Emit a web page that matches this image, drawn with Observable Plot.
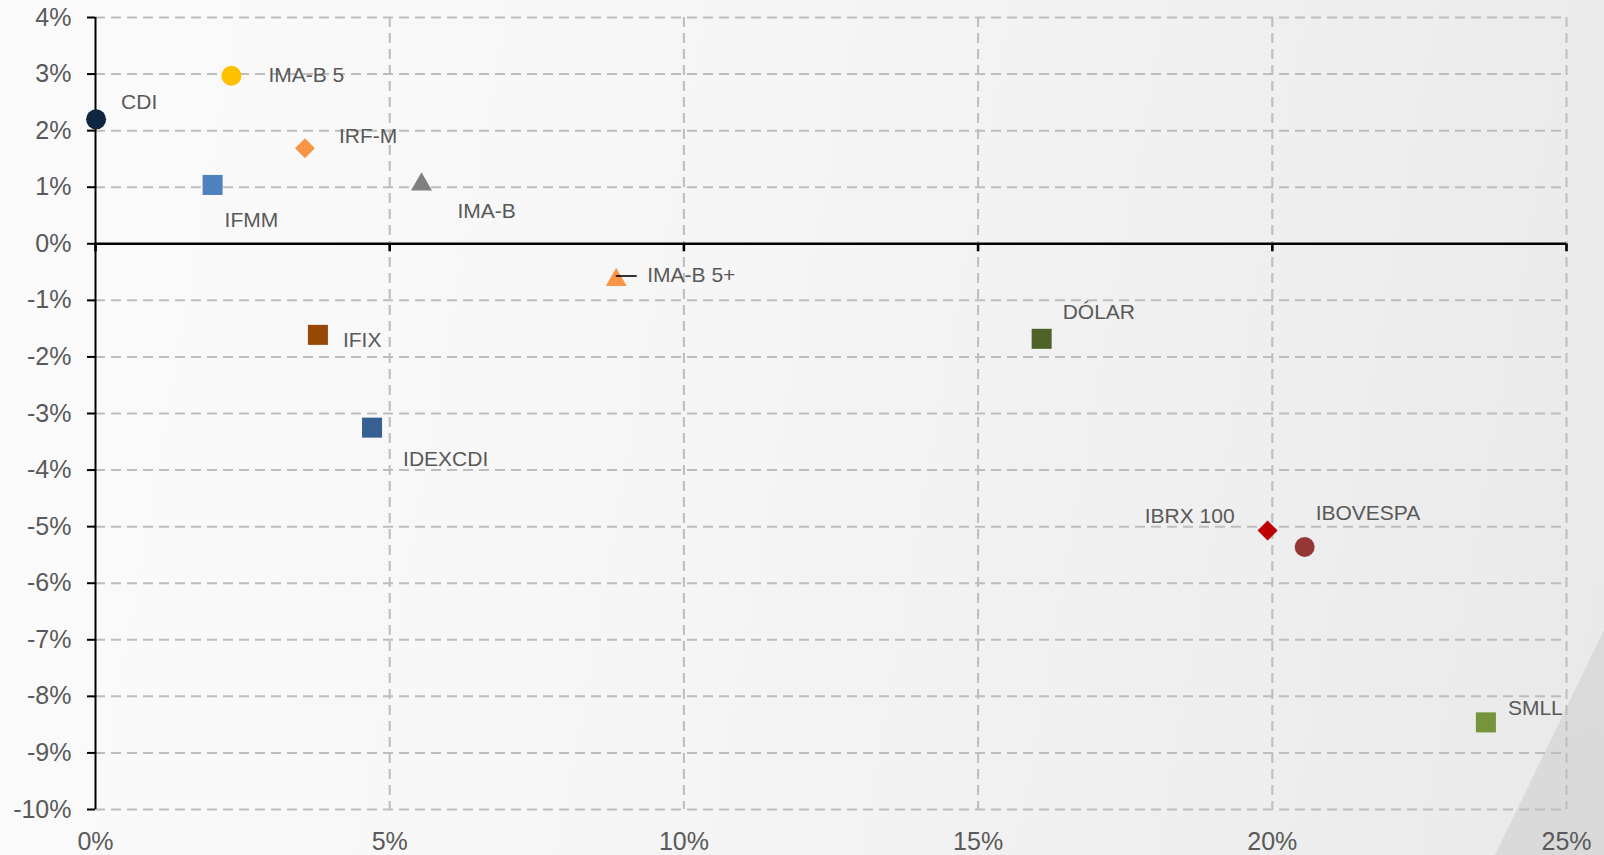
<!DOCTYPE html>
<html>
<head>
<meta charset="utf-8">
<script src="https://cdn.jsdelivr.net/npm/d3@7"></script>
<script src="https://cdn.jsdelivr.net/npm/@observablehq/plot@0.6"></script>
<style>
  html, body { margin: 0; padding: 0; width: 1604px; height: 855px; overflow: hidden; }
  body {
    position: relative;
    background: linear-gradient(100deg, #fbfbfb 0%, #f7f7f7 35%, #f0f0f0 70%, #e9e9e9 100%);
    font-family: "Liberation Sans", Arial, sans-serif;
  }
  #corner {
    position: absolute; left: 0; top: 0; width: 1604px; height: 855px;
    background: linear-gradient(160deg, #e4e4e4, #d9d9d9);
    clip-path: polygon(1604px 630px, 1604px 855px, 1495px 855px);
  }
  #chart { position: absolute; left: 0; top: 0; }
</style>
</head>
<body>
<div id="corner"></div>
<div id="chart"></div>
<script>
// ---- data (x = risk/volatility %, y = return %) ----
const names  = ["CDI", "IMA-B 5", "IRF-M", "IFMM", "IMA-B", "IMA-B 5+", "IFIX", "IDEXCDI", "DÓLAR", "IBRX 100", "IBOVESPA", "SMLL"];
const risk   = [0.01, 2.31, 3.56, 1.99, 5.54, 8.85, 3.78, 4.70, 16.08, 19.92, 20.55, 23.63];
const ret    = [2.20, 2.97, 1.69, 1.04, 1.05, -0.64, -1.61, -3.25, -1.68, -5.07, -5.36, -8.46];
const colors = ["#0f2540", "#ffc000", "#f79646", "#4f81bd", "#808080", "#f79646", "#974806", "#376092", "#4f6228", "#c00000", "#953735", "#77933c"];
const shapes = ["circle", "circle", "diamond2", "square", "triangle", "triangle", "square", "square", "square", "diamond2", "circle", "square"];
const xTicks = [0, 5, 10, 15, 20, 25];
const yTicks = [-10, -9, -8, -7, -6, -5, -4, -3, -2, -1, 0, 1, 2, 3, 4];

// ---- layout / style (not data) ----
const symbolR = {circle: 10, square: 11.3, diamond2: 9, triangle: 7.8};
const labelPos = {
  "CDI":      {dx: 25, dy: -17, anchor: "start"},
  "IMA-B 5":  {dx: 37, dy: -1,  anchor: "start"},
  "IRF-M":    {dx: 34, dy: -12, anchor: "start"},
  "IFMM":     {dx: 12, dy: 35,  anchor: "start"},
  "IMA-B":    {dx: 36, dy: 27,  anchor: "start"},
  "IMA-B 5+": {dx: 31, dy: -5,  anchor: "start"},
  "IFIX":     {dx: 25, dy: 5,   anchor: "start"},
  "IDEXCDI":  {dx: 31, dy: 32,  anchor: "start"},
  "DÓLAR":    {dx: 21, dy: -27, anchor: "start"},
  "IBRX 100": {dx: -33, dy: -14, anchor: "end"},
  "IBOVESPA": {dx: 11, dy: -34, anchor: "start"},
  "SMLL":     {dx: 22, dy: -14, anchor: "start"}
};

const data = names.map((n, i) => ({name: n, x: risk[i], y: ret[i], color: colors[i], shape: shapes[i]}));
const pct = d => `${d}%`;
const labelColor = "#595959";

const dots = data.map(d => Plot.dot([d], {
  x: "x", y: "y", r: symbolR[d.shape], symbol: d.shape, fill: d.color, stroke: "none"
}));
const labels = data.map(d => {
  const p = labelPos[d.name];
  return Plot.text([d], {
    x: "x", y: "y", text: "name", dx: p.dx, dy: p.dy, textAnchor: p.anchor,
    lineAnchor: "middle", fontSize: 21, fill: labelColor
  });
});
const leader = data.filter(d => d.name === "IMA-B 5+").map(d =>
  Plot.ruleY([d], {x1: "x", x2: "x", y: "y", insetRight: -21, dy: -4, stroke: "#000", strokeWidth: 1.6})
);

const chart = Plot.plot({
  width: 1604,
  height: 855,
  marginLeft: 95,
  marginRight: 38,
  marginTop: 17,
  marginBottom: 46,
  style: {background: "transparent", fontFamily: "'Liberation Sans', Arial, sans-serif", overflow: "visible"},
  x: {domain: [0, 25]},
  y: {domain: [-10, 4]},
  marks: [
    // dashed grid
    Plot.ruleY(yTicks.filter(d => d !== 0), {stroke: "#bdbdbd", strokeWidth: 2, strokeDasharray: "10,6"}),
    Plot.ruleX(xTicks.filter(d => d !== 0), {stroke: "#bdbdbd", strokeWidth: 2, strokeDasharray: "10,6"}),
    // axes
    Plot.axisY({ticks: yTicks, tickSize: 8, tickPadding: 16, tickFormat: pct, fontSize: 25,
      stroke: "#000", strokeWidth: 2, fill: labelColor, label: null}),
    Plot.axisX({ticks: xTicks, tickSize: 0, tickPadding: 23, tickFormat: pct, fontSize: 25,
      fill: labelColor, label: null}),
    Plot.ruleX([0], {stroke: "#000", strokeWidth: 2}),
    Plot.ruleY([0], {stroke: "#000", strokeWidth: 2.6}),
    Plot.ruleX(xTicks, {y1: 0, y2: 0, insetBottom: -8, stroke: "#000", strokeWidth: 2.6}),
    ...dots,
    ...leader,
    ...labels
  ]
});
document.getElementById("chart").appendChild(chart);
</script>
</body>
</html>
